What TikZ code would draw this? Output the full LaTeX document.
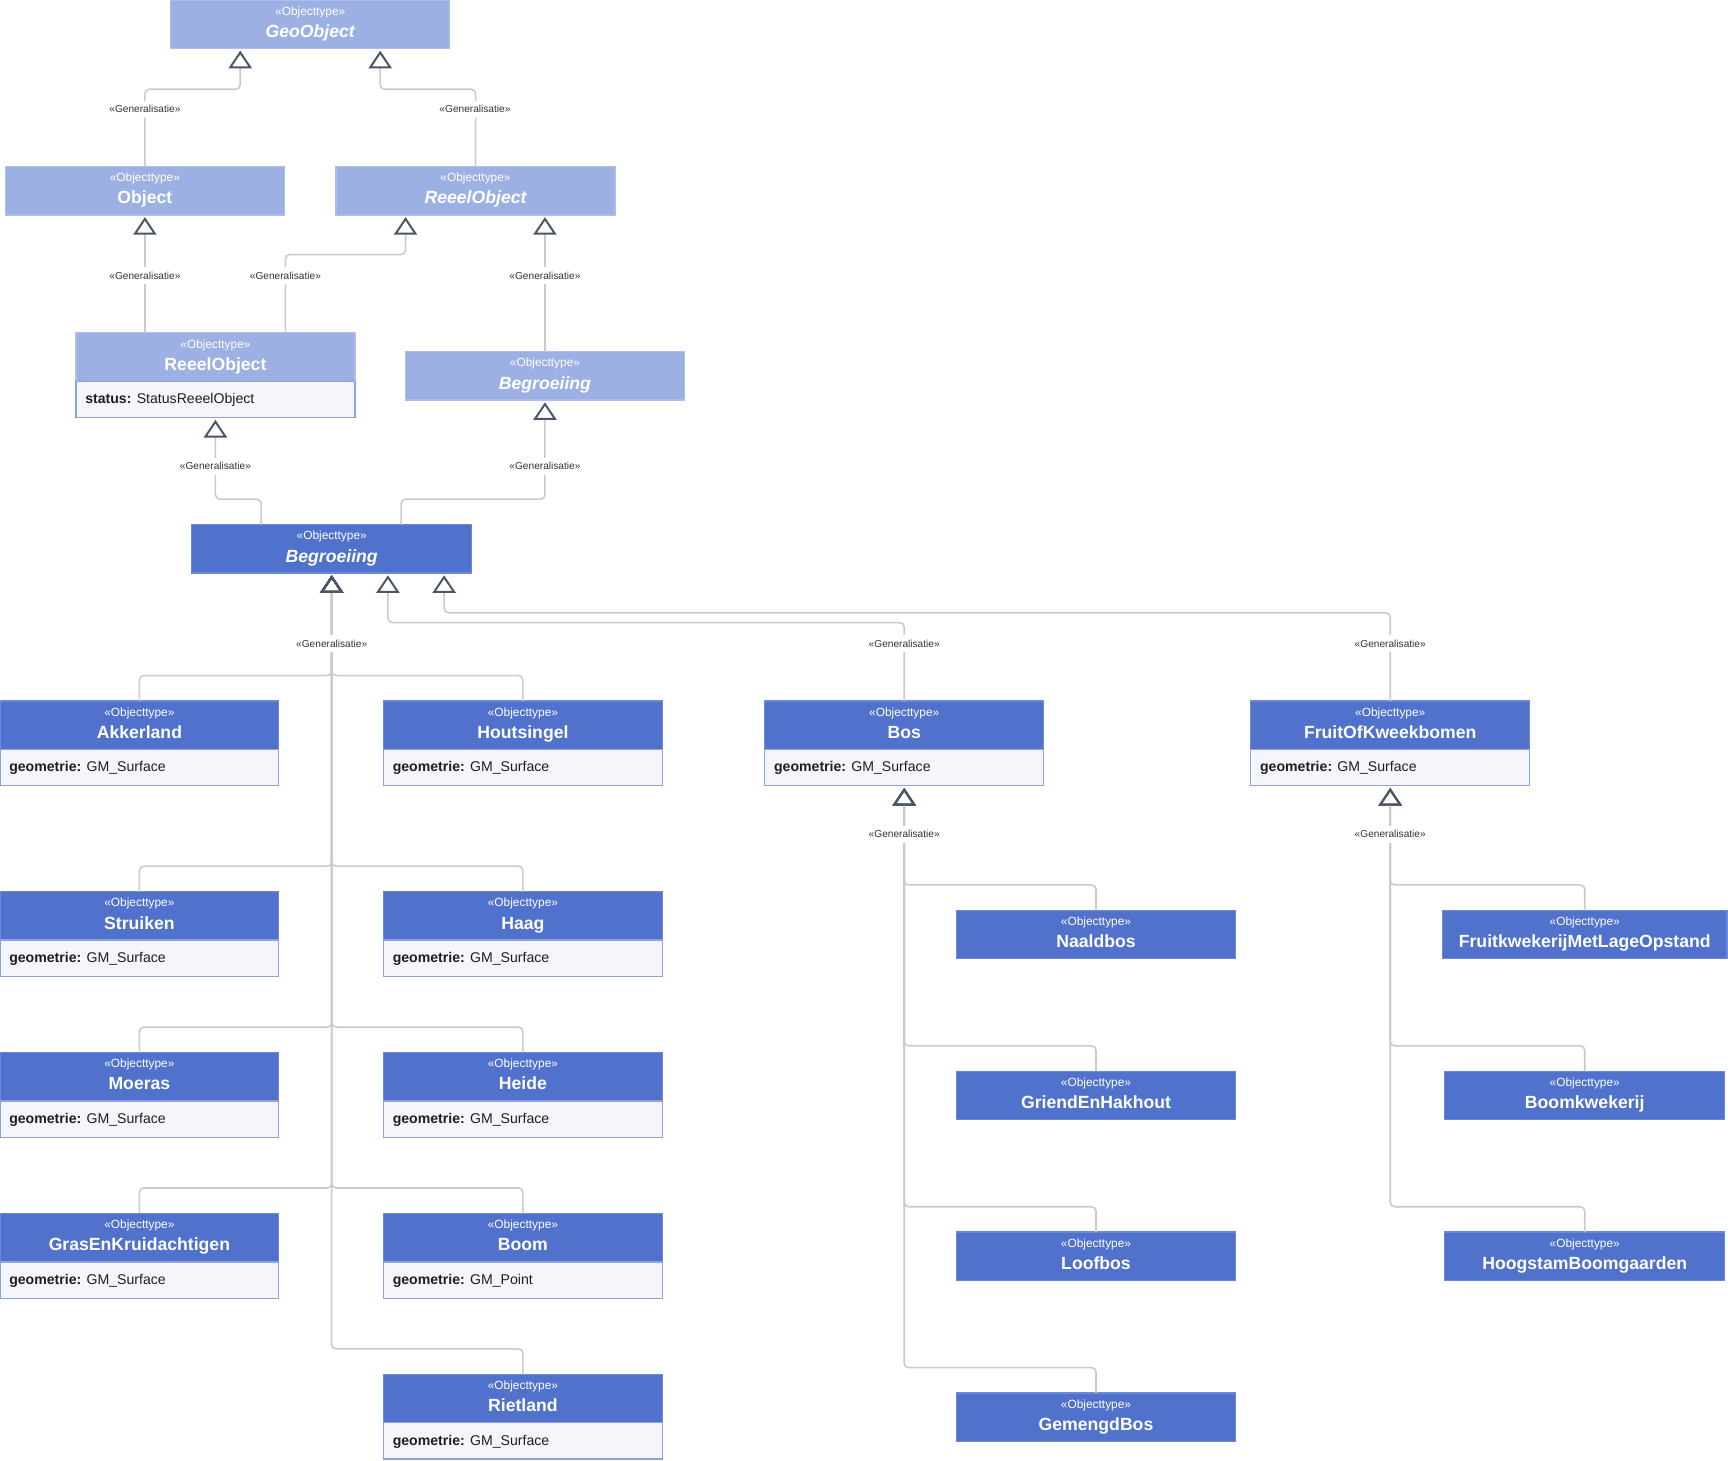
\documentclass[tikz,border=0pt]{standalone}
\usepackage{fontspec}
\setmainfont{Liberation Sans}
\usetikzlibrary{arrows.meta,calc}
\definecolor{lightH}{HTML}{9DB0E3}
\definecolor{lightB}{HTML}{AEBDEA}
\definecolor{darkH}{HTML}{5072CC}
\definecolor{darkB}{HTML}{6A89D8}
\definecolor{attrBg}{HTML}{F5F6FB}
\definecolor{attrB}{HTML}{8DA2E3}
\definecolor{triC}{HTML}{4A5568}
\definecolor{lineC}{HTML}{C9C9CE}
\definecolor{txtC}{HTML}{1E1E1E}
\definecolor{labC}{HTML}{333333}
\tikzset{
  hdrL/.style={rectangle, fill=lightH, draw=lightB, line width=0.6pt, inner sep=0pt, outer sep=0pt, anchor=north west, minimum height=22pt},
  hdrD/.style={rectangle, fill=darkH, draw=darkB, line width=0.6pt, inner sep=0pt, outer sep=0pt, anchor=north west, minimum height=22pt},
  attrbox/.style={rectangle, fill=attrBg, draw=attrB, line width=0.6pt, inner sep=0pt, outer sep=0pt, anchor=north west, minimum height=16.5pt},
  stereo/.style={inner sep=0pt, anchor=base, text=white, font=\fontsize{5.4}{6}\selectfont},
  cname/.style={inner sep=0pt, anchor=base, text=white, font=\fontsize{8}{9}\selectfont\bfseries},
  attrtxt/.style={inner sep=0pt, anchor=base west, text=txtC, font=\fontsize{6.4}{7.5}\selectfont},
  glab/.style={fill=white, inner xsep=1pt, inner ysep=2.2pt, text=labC, font=\fontsize{4.6}{5}\selectfont},
  gen/.style={draw=lineC, line width=0.7pt, rounded corners=2pt,
    -{Triangle[open, color=triC, line width=0.9pt, width=10.5pt, length=8pt]}}
}
\newcommand{\umlclass}[6]{%
  \node[#5, minimum width=#4*0.5pt] (#1) at (#2,#3) {};
  \node[stereo] (#1-s) at ($(#1.north)+(0,14)$) {«Objecttype»};
  \node[cname] (#1-n) at ($(#1.north)+(0,34)$) {#6};
}
\newcommand{\umlattr}[4]{%
  \node[attrbox, minimum width=#2*0.5pt] (#1a) at (#1.south west) {};
  \node[attrtxt] (#1a-t) at ($(#1a.north west)+(8,20.5)$) {\textbf{#3:} #4};
}
\begin{document}
\begin{tikzpicture}[x=0.5pt,y=-0.5pt]
\useasboundingbox (0,0) rectangle (1568,1325);

% classes
\umlclass{geo}{155}{0}{253}{hdrL}{\itshape GeoObject}
\umlclass{obj}{5}{151}{253}{hdrL}{Object}
\umlclass{reeelA}{305}{151}{253}{hdrL}{\itshape ReeelObject}
\umlclass{reeelB}{69}{302}{253}{hdrL}{ReeelObject}
\umlattr{reeelB}{253}{status}{StatusReeelObject}
\umlclass{begrA}{368}{319}{253}{hdrL}{\itshape Begroeiing}
\umlclass{begr}{174}{476}{254}{hdrD}{\itshape Begroeiing}

\umlclass{akker}{0}{636}{253}{hdrD}{Akkerland}
\umlattr{akker}{253}{geometrie}{GM\_Surface}
\umlclass{hout}{348}{636}{253}{hdrD}{Houtsingel}
\umlattr{hout}{253}{geometrie}{GM\_Surface}
\umlclass{struik}{0}{809}{253}{hdrD}{Struiken}
\umlattr{struik}{253}{geometrie}{GM\_Surface}
\umlclass{haag}{348}{809}{253}{hdrD}{Haag}
\umlattr{haag}{253}{geometrie}{GM\_Surface}
\umlclass{moeras}{0}{955}{253}{hdrD}{Moeras}
\umlattr{moeras}{253}{geometrie}{GM\_Surface}
\umlclass{heide}{348}{955}{253}{hdrD}{Heide}
\umlattr{heide}{253}{geometrie}{GM\_Surface}
\umlclass{gras}{0}{1101}{253}{hdrD}{GrasEnKruidachtigen}
\umlattr{gras}{253}{geometrie}{GM\_Surface}
\umlclass{boom}{348}{1101}{253}{hdrD}{Boom}
\umlattr{boom}{253}{geometrie}{GM\_Point}
\umlclass{riet}{348}{1247}{253}{hdrD}{Rietland}
\umlattr{riet}{253}{geometrie}{GM\_Surface}

\umlclass{bos}{694}{636}{253}{hdrD}{Bos}
\umlattr{bos}{253}{geometrie}{GM\_Surface}
\umlclass{fruit}{1135}{636}{253}{hdrD}{FruitOfKweekbomen}
\umlattr{fruit}{253}{geometrie}{GM\_Surface}

\umlclass{naald}{868}{826}{253}{hdrD}{Naaldbos}
\umlclass{griend}{868}{972}{253}{hdrD}{GriendEnHakhout}
\umlclass{loof}{868}{1118}{253}{hdrD}{Loofbos}
\umlclass{gemengd}{868}{1264}{253}{hdrD}{GemengdBos}

\umlclass{fkw}{1309}{826}{258}{hdrD}{FruitkwekerijMetLageOpstand}
\umlclass{bkw}{1311}{972}{254}{hdrD}{Boomkwekerij}
\umlclass{hoog}{1311}{1118}{254}{hdrD}{HoogstamBoomgaarden}

% generalisations
\draw[gen] (obj.north) -- ++(0,-70) -| ($(geo.south west)+(63,2)$);
\draw[gen] (reeelA.north) -- ++(0,-70) -| ($(geo.south west)+(190,2)$);
\draw[gen] (obj.south |- reeelB.north) -- ($(obj.south)+(0,2)$);
\draw[gen] ($(reeelB.north west)+(190,0)$) -- ++(0,-71) -| ($(reeelA.south west)+(63,2)$);
\draw[gen] (begrA.north) -- ($(begrA.north |- reeelA.south)+(0,2)$);
\draw[gen] ($(begr.north west)+(63,0)$) -- ++(0,-23) -| ($(reeelBa.south)+(0,2)$);
\draw[gen] ($(begr.north west)+(190,0)$) -- ++(0,-23) -| ($(begrA.south)+(0,2)$);
\foreach \c in {akker,hout,struik,haag,moeras,heide,gras,boom,riet}{
  \draw[gen] (\c.north) -- ++(0,-23) -| ($(begr.south)+(0,2)$);
}
\draw[gen] (bos.north) -- ++(0,-71) -| ($(begr.south west)+(178,2)$);
\draw[gen] (fruit.north) -- ++(0,-80) -| ($(begr.south west)+(229,2)$);
\foreach \c in {naald,griend,loof,gemengd}{
  \draw[gen] (\c.north) -- ++(0,-23) -| ($(bosa.south)+(0,2)$);
}
\foreach \c in {fkw,bkw,hoog}{
  \draw[gen] (\c.north) -- ++(0,-23) -| ($(fruita.south)+(0,2)$);
}

% labels
\node[glab] (l1) at (131.5,99) {«Generalisatie»};
\node[glab] (l2) at (431,99) {«Generalisatie»};
\node[glab] (l3) at (131.5,250) {«Generalisatie»};
\node[glab] (l4) at (259,250) {«Generalisatie»};
\node[glab] (l5) at (494.5,250) {«Generalisatie»};
\node[glab] (l6) at (195.5,423) {«Generalisatie»};
\node[glab] (l7) at (494.5,423) {«Generalisatie»};
\node[glab] (l8) at (301,584) {«Generalisatie»};
\node[glab] (l9) at (820.5,584) {«Generalisatie»};
\node[glab] (l10) at (1261.5,584) {«Generalisatie»};
\node[glab] (l11) at (820.5,757) {«Generalisatie»};
\node[glab] (l12) at (1261.5,757) {«Generalisatie»};
\end{tikzpicture}
\end{document}
